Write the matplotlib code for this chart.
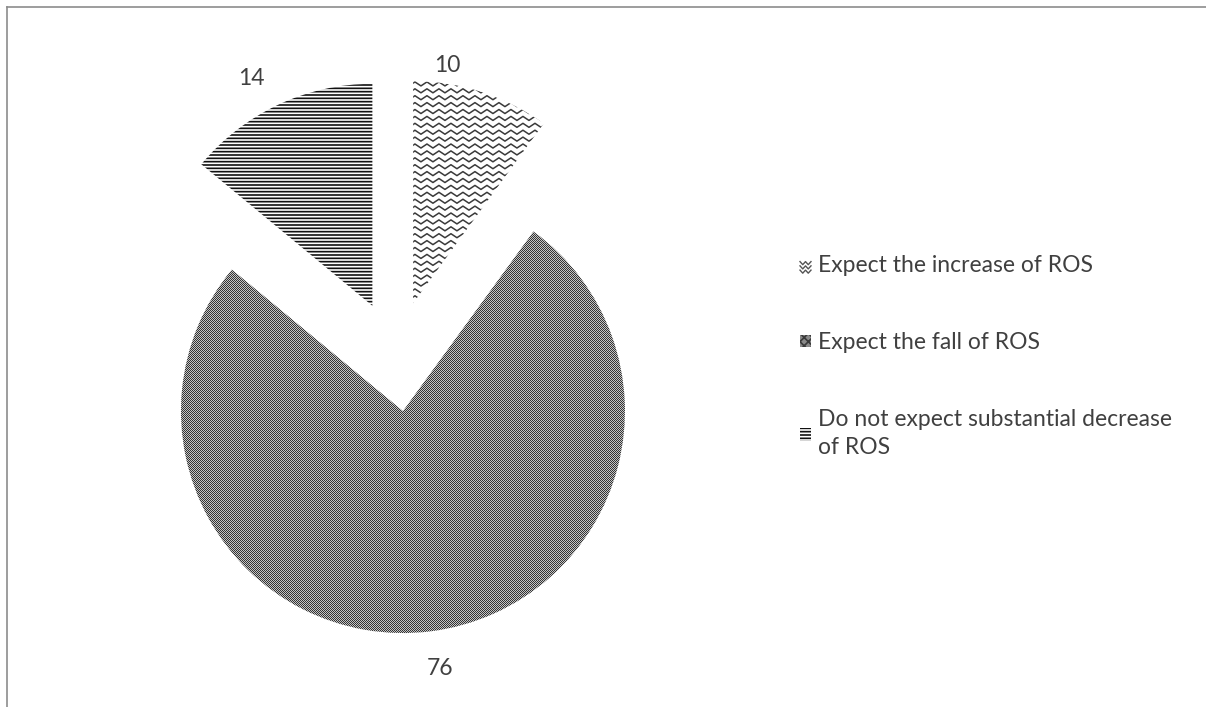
import numpy as np
import matplotlib
matplotlib.use("Agg")
import matplotlib.pyplot as plt
from matplotlib.patches import Patch
from matplotlib.lines import Line2D
from matplotlib.legend_handler import HandlerBase

# ---- data ----
categories = ["Expect the increase of ROS",
              "Expect the fall of ROS",
              "Do not expect substantial decrease\nof ROS"]
values = [10, 76, 14]
value_labels = ["10", "76", "14"]

# ---- style / layout ----
W, H, DPI = 1206, 707, 100
R_PX = 222.0              # pie radius in pixels
CX_PX, CY_PX = 396.0, 356.0  # pie centre in pixels (from top-left)
EXPLODE = 0.25
TEXT_COLOR = "#404040"
FONT = ["Lato", "DejaVu Sans"]
FS = 16.5
label_angle_shift = [9.8, 1.1, 2.8]
label_dist = [1.08, 1.17, 1.16]

plt.rcParams["font.family"] = FONT
plt.rcParams["hatch.linewidth"] = 1.2

fig = plt.figure(figsize=(W / DPI, H / DPI), dpi=DPI)
ax = fig.add_axes([0, 0, 1, 1])

wedges, _ = ax.pie(values, startangle=90, counterclock=False,
                   explode=[EXPLODE] * len(values), radius=1.0,
                   colors=["none", "none", "white"],
                   wedgeprops=dict(linewidth=0))
ax.set_aspect("auto")
ax.set_xlim(-CX_PX / R_PX, (W - CX_PX) / R_PX)
ax.set_ylim(-(H - CY_PX) / R_PX, CY_PX / R_PX)
ax.axis("off")

# slice 3: horizontal lines
wedges[2].set_facecolor("white")
wedges[2].set_edgecolor("#111111")
wedges[2].set_hatch("-----")

# slice 2: checkerboard dither, clipped to the wedge
yy, xx = np.mgrid[0:H, 0:W]
checker = ((xx + yy) % 2).astype(float)
img = ax.imshow(checker, cmap=matplotlib.colors.ListedColormap(["#333333", "#c4c4c4"]),
                extent=(ax.get_xlim()[0], ax.get_xlim()[1], ax.get_ylim()[0], ax.get_ylim()[1]),
                interpolation="nearest", origin="upper", zorder=1, aspect="auto")
img.set_clip_path(wedges[1])

# slice 1: wavy lines clipped to wedge
w0 = wedges[0]
cx0, cy0 = w0.center
px = 1.0 / R_PX
row_sp = 6.9 * px
period = 12.0 * px
amp = 2.0 * px
xs = np.arange(cx0 - 0.1, cx0 + 1.2, period / 2)
for k, y0 in enumerate(np.arange(cy0 - 0.1, cy0 + 1.2, row_sp)):
    ys = y0 + amp * np.where(np.arange(len(xs)) % 2 == 0, 1, -1)
    ln = Line2D(xs, ys, color="#3a3a3a", lw=1.1, zorder=2)
    ax.add_line(ln)
    ln.set_clip_path(w0)

# value labels
for w, lab, dsh, dist in zip(wedges, value_labels, label_angle_shift, label_dist):
    a = np.deg2rad(0.5 * (w.theta1 + w.theta2) + dsh)
    cx, cy = w.center
    ax.text(cx + dist * np.cos(a), cy + dist * np.sin(a), lab,
            ha="center", va="center", fontsize=FS, color=TEXT_COLOR)


# legend
class ZigzagHandler(HandlerBase):
    def create_artists(self, legend, orig_handle, xd, yd, width, height, fontsize, trans):
        arts = []
        n = 3
        for i in range(n):
            yb = yd + height * (i + 0.5) / n
            xz = np.linspace(xd, xd + width, 5)
            yz = yb + 0.12 * height * np.array([1, -1, 1, -1, 1])
            arts.append(Line2D(xz, yz, color="#555555", lw=1.0, transform=trans))
        return arts


class WaveProxy:
    pass


h_wave = WaveProxy()
h_check = Patch(facecolor="#8a8a8a", edgecolor="#3a3a3a", hatch="xxxx", linewidth=0)
h_lines = Patch(facecolor="white", edgecolor="#111111", hatch="-----", linewidth=0)

leg = fig.legend([h_wave, h_check, h_lines], categories,
                 handler_map={WaveProxy: ZigzagHandler()},
                 loc="upper left", bbox_to_anchor=(800 / W, 1 - 255 / H),
                 frameon=False, fontsize=FS, labelcolor=TEXT_COLOR,
                 handlelength=0.48, handleheight=0.48, handletextpad=0.3,
                 labelspacing=2.45, borderpad=0, borderaxespad=0)
for t in leg.get_texts():
    t.set_linespacing(1.42)

# frame lines (top and left)
fig.add_artist(Line2D([7 / W, 7 / W], [0, 1 - 7 / H], transform=fig.transFigure,
                      color="#8c8c8c", lw=1.2))
fig.add_artist(Line2D([7 / W, 1], [1 - 7 / H, 1 - 7 / H], transform=fig.transFigure,
                      color="#8c8c8c", lw=1.2))

fig.savefig("out.png", dpi=DPI)
